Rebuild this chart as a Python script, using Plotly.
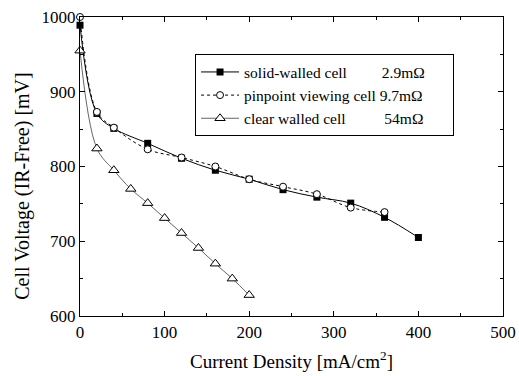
import plotly.graph_objects as go

# Data
x_solid = [0, 20, 40, 80, 120, 160, 200, 240, 280, 320, 360, 400]
v_solid = [989, 871, 851, 831, 811, 795, 783, 769, 759, 751, 732, 705]

x_pin = [0, 20, 40, 80, 120, 160, 200, 240, 280, 320, 360]
v_pin = [1000, 873, 852, 823, 812, 800, 783, 773, 763, 745, 739]

x_clear = [0, 20, 40, 60, 80, 100, 120, 140, 160, 180, 200]
v_clear = [955, 824, 795, 770, 751, 731, 711, 691, 670, 650, 628]

NB = "\u00a0"
names = [
    "solid-walled cell" + NB * 9 + "2.9mΩ" + NB * 6,
    "pinpoint viewing cell" + NB + "9.7mΩ" + NB * 6,
    "clear walled cell" + NB * 10 + "54mΩ" + NB * 6,
]

FONT = "Liberation Serif"

fig = go.Figure()
fig.add_trace(go.Scatter(
    x=x_solid, y=v_solid, name=names[0], mode="lines+markers", cliponaxis=False,
    line=dict(color="black", width=1, shape="spline", smoothing=1),
    marker=dict(symbol="square", size=7, color="black"),
))
fig.add_trace(go.Scatter(
    x=x_pin, y=v_pin, name=names[1], mode="lines+markers", cliponaxis=False,
    line=dict(color="black", width=1, dash="dot", shape="spline", smoothing=1),
    marker=dict(symbol="circle", size=7, color="white", line=dict(color="black", width=1)),
))
fig.add_trace(go.Scatter(
    x=x_clear, y=v_clear, name=names[2], mode="lines+markers", cliponaxis=False,
    line=dict(color="#666666", width=1, shape="spline", smoothing=1),
    marker=dict(symbol="triangle-up", size=9, color="white", line=dict(color="black", width=1)),
))

axis_common = dict(
    showline=True, linecolor="black", linewidth=1.3, mirror="ticks",
    ticks="inside", ticklen=5, tickcolor="black", tickwidth=1,
    showgrid=False, zeroline=False, automargin=False,
    tickfont=dict(family=FONT, size=17, color="black"),
    minor=dict(ticks="inside", ticklen=3, tickcolor="black", dtick=50),
)

fig.update_layout(
    width=519, height=376,
    margin=dict(l=80, r=16, t=17, b=60),
    paper_bgcolor="white", plot_bgcolor="white",
    font=dict(family=FONT, color="black"),
    showlegend=True,
    legend=dict(
        x=0.272, y=0.875, xanchor="left", yanchor="top",
        bgcolor="white", bordercolor="black", borderwidth=1,
        font=dict(family=FONT, size=15.5, color="black"),
        tracegroupgap=0, itemwidth=38,
    ),
    xaxis=dict(range=[0, 500], dtick=100, tick0=0, **axis_common),
    yaxis=dict(range=[600, 1000], dtick=100, tick0=600, **axis_common),
    annotations=[
        dict(text="Current Density [mA/cm<sup>2</sup>]", xref="paper", yref="paper",
             x=0.5, y=-0.148, xanchor="center", yanchor="middle", showarrow=False,
             font=dict(family=FONT, size=19, color="black")),
        dict(text="Cell Voltage (IR-Free) [mV]", xref="paper", yref="paper",
             x=-0.135, y=0.435, xanchor="center", yanchor="middle", showarrow=False,
             textangle=-90, font=dict(family=FONT, size=20, color="black")),
    ],
)

fig.write_html("out.html")
